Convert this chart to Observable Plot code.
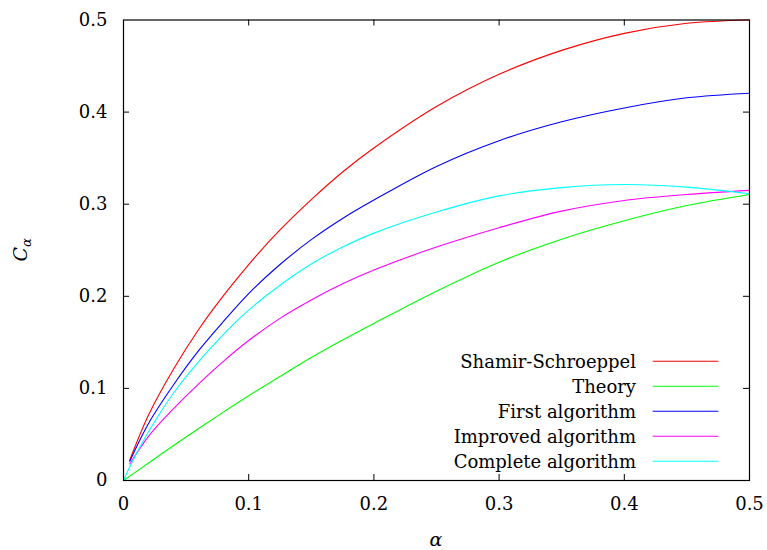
<!DOCTYPE html>
<html><head><meta charset="utf-8">
<script src="https://cdn.jsdelivr.net/npm/d3@7"></script>
<script src="https://cdn.jsdelivr.net/npm/@observablehq/plot@0.6"></script>
<style>
body{margin:0;background:#fff}
</style>
</head><body><div id="chart"></div>
<script>
// alpha grid (x) for each curve
const alphaA = [0.005, 0.02, 0.04, 0.06, 0.08, 0.1, 0.125, 0.15, 0.175, 0.2, 0.25, 0.3, 0.35, 0.4, 0.45, 0.5];
const alphaB = [0, 0.02, 0.04, 0.06, 0.08, 0.1, 0.125, 0.15, 0.175, 0.2, 0.25, 0.3, 0.35, 0.4, 0.45, 0.5];
const alphaC = [0, 0.005, 0.02, 0.04, 0.06, 0.08, 0.1, 0.125, 0.15, 0.175, 0.2, 0.25, 0.3, 0.35, 0.4, 0.45, 0.5];

// C_alpha values
const shamirSchroeppel  = [0.022, 0.071, 0.121, 0.164, 0.201, 0.2345, 0.272, 0.305, 0.335, 0.361, 0.406, 0.441, 0.467, 0.4855, 0.4964, 0.500];
const theory            = [0.000, 0.019, 0.038, 0.0565, 0.0745, 0.092, 0.113, 0.1335, 0.1525, 0.1705, 0.2055, 0.237, 0.262, 0.282, 0.2985, 0.3105];
const firstAlgorithm    = [0.021, 0.062, 0.104, 0.141, 0.173, 0.203, 0.2345, 0.2615, 0.2845, 0.3045, 0.341, 0.369, 0.3895, 0.4045, 0.4155, 0.4205];
const improvedAlgorithm = [0.018, 0.048, 0.078, 0.105, 0.1297, 0.152, 0.176, 0.196, 0.2135, 0.2285, 0.2535, 0.2745, 0.2925, 0.304, 0.3105, 0.315];
const completeAlgorithm = [0.000, 0.015, 0.053, 0.095, 0.129, 0.159, 0.185, 0.212, 0.235, 0.2536, 0.2686, 0.2915, 0.309, 0.318, 0.3214, 0.3185, 0.3113];

const seriesNames  = ["Shamir-Schroeppel", "Theory", "First algorithm", "Improved algorithm", "Complete algorithm"];
const seriesColors = ["#ff0000", "#00ff00", "#0000ff", "#ff00ff", "#00ffff"];
const seriesValues = [shamirSchroeppel, theory, firstAlgorithm, improvedAlgorithm, completeAlgorithm];
const seriesAlphas = [alphaA, alphaB, alphaA, alphaA, alphaC];

const xTicks = [0, 0.1, 0.2, 0.3, 0.4, 0.5];
const yTicks = [0, 0.1, 0.2, 0.3, 0.4, 0.5];

const FONT = "DejaVu Serif";
const W = 767, H = 550;
const mL = 123, mR = 18, mT = 19.5, mB = 70;
const innerW = W - mL - mR, innerH = H - mT - mB;
const tickLen = 6;

const rows = seriesNames.map((name, i) =>
  seriesValues[i].map((v, j) => ({series: name, alpha: seriesAlphas[i][j], value: v})));

const innerX = xTicks.filter(t => t > 0 && t < 0.5);
const innerY = yTicks.filter(t => t > 0 && t < 0.5);

const plot = Plot.plot({
  width: W, height: H,
  marginLeft: mL, marginRight: mR, marginTop: mT, marginBottom: mB,
  x: {domain: [0, 0.5], axis: null},
  y: {domain: [0, 0.5], axis: null},
  style: {fontSize: "18px", color: "black", background: "white", fontFamily: FONT},
  marks: [
    ...rows.map((r, i) => Plot.line(r, {x: "alpha", y: "value", stroke: seriesColors[i], strokeWidth: 1.1, curve: "catmull-rom"})),
    Plot.tickX(innerX, {x: d => d, insetTop: innerH - tickLen, stroke: "black"}),
    Plot.tickX(innerX, {x: d => d, insetBottom: innerH - tickLen, stroke: "black"}),
    Plot.tickY(innerY, {y: d => d, insetRight: innerW - tickLen, stroke: "black"}),
    Plot.tickY(innerY, {y: d => d, insetLeft: innerW - tickLen, stroke: "black"}),
    Plot.axisX(xTicks, {anchor: "bottom", tickSize: 0, tickPadding: 17, label: null, tickFormat: d => String(d)}),
    Plot.axisY(yTicks, {anchor: "left", tickSize: 0, tickPadding: 16, label: null, tickFormat: d => String(d)}),
    Plot.frame({stroke: "black", strokeWidth: 1.2})
  ]
});

document.getElementById("chart").appendChild(plot);
const svg = d3.select(plot);

// x-axis title
svg.append("text")
  .attr("x", mL + innerW / 2).attr("y", 546)
  .attr("text-anchor", "middle").attr("font-family", FONT)
  .attr("font-style", "italic").attr("font-size", 19)
  .text("α");

// y-axis title C_α
const yt = svg.append("text")
  .attr("transform", `translate(27,${mT + innerH / 2}) rotate(-90)`)
  .attr("text-anchor", "middle").attr("font-family", FONT)
  .attr("font-style", "italic").attr("font-size", 19);
yt.append("tspan").text("C");
yt.append("tspan").attr("font-size", 13).attr("dy", 4).text("α");

// legend
const legend = svg.append("g");
seriesNames.forEach((name, i) => {
  const y = 361.3 + i * 25;
  legend.append("text")
    .attr("x", 636).attr("y", y).attr("dy", "0.36em")
    .attr("text-anchor", "end").attr("font-size", 18).attr("font-family", FONT)
    .text(name);
  legend.append("line")
    .attr("x1", 652.7).attr("x2", 718.3).attr("y1", y).attr("y2", y)
    .attr("stroke", seriesColors[i]).attr("stroke-width", 1.1);
});
</script>
</body></html>
